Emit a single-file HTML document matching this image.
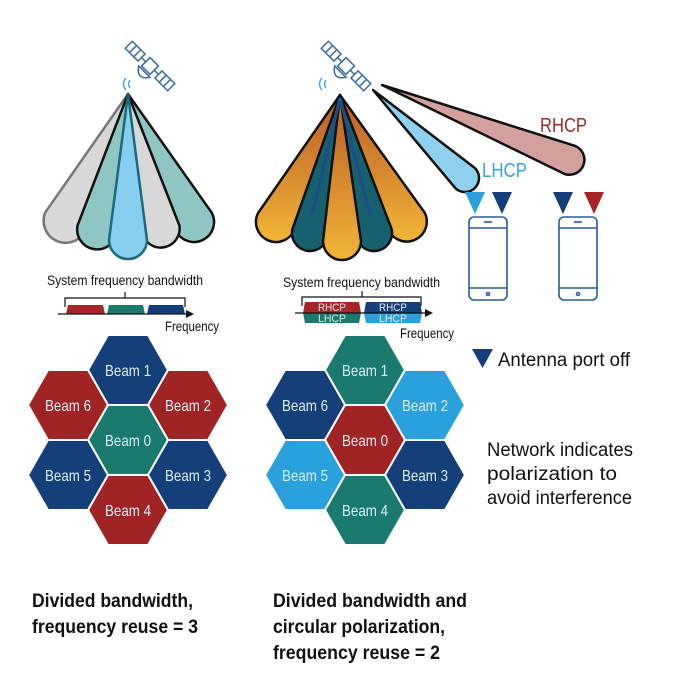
<!DOCTYPE html>
<html><head><meta charset="utf-8"><style>
html,body{margin:0;padding:0;background:#fff;}
svg{display:block;}
.n{font-family:"Liberation Sans Narrow","Liberation Sans",sans-serif;}
</style></head><body>
<svg width="676" height="684" viewBox="0 0 676 684" xmlns="http://www.w3.org/2000/svg">
<defs>
<linearGradient id="og" x1="0" y1="0" x2="0" y2="1"><stop offset="0" stop-color="#b85a28"/><stop offset="1" stop-color="#f2b536"/></linearGradient>
<g id="sat" fill="none" stroke="#3a6a9c" stroke-width="1.5">
  <g transform="rotate(45)">
    <rect x="-30" y="-5" width="18" height="10"/>
    <line x1="-24" y1="-5" x2="-24" y2="5"/><line x1="-18" y1="-5" x2="-18" y2="5"/>
    <rect x="12" y="-5" width="18" height="10"/>
    <line x1="18" y1="-5" x2="18" y2="5"/><line x1="24" y1="-5" x2="24" y2="5"/>
    <line x1="-12" y1="0" x2="-6" y2="0"/><line x1="6" y1="0" x2="12" y2="0"/>
    <rect x="-6" y="-6" width="12" height="12"/>
    <path d="M-8 8 Q0 20 8 8 Z"/>
  </g>
  <path d="M-20 14 q-3 4 0 8 M-24 12 q-5 6 0 12" stroke="#4aa8d8"/>
</g>
</defs>

<use href="#sat" x="150" y="66"/>
<use href="#sat" x="346" y="66"/>

<!-- left fan -->
<g stroke="#111" stroke-width="2.5" stroke-linejoin="round">
<path d="M128 94 L45.3 212.3 A22 22 0 0 0 84.7 231.7 Z" fill="#d8d8d8" stroke="#777"/>
<path d="M128 94 L176.2 231.2 A20 20 0 0 0 211.8 212.8 Z" fill="#8fc6c4"/>
<path d="M128 94 L77.5 225.6 A20 20 0 0 0 116.5 234.4 Z" fill="#8fc6c4"/>
<path d="M128 94 L142.6 234.5 A19 19 0 0 0 179.4 225.5 Z" fill="#d8d8d8"/>
<path d="M128 94 L109 240 A19 19 0 0 0 147 240 Z" fill="#86cdee" stroke="#1a6a7c"/>
</g>

<!-- right fan -->
<g stroke="#111" stroke-width="2.5" stroke-linejoin="round">
<path d="M340 95 L258.1 213 A20 20 0 0 0 293.9 231 Z" fill="url(#og)"/>
<path d="M340 95 L389.3 231.3 A20 20 0 0 0 424.7 212.7 Z" fill="url(#og)"/>
<path d="M340 95 L292.4 229.2 A18 18 0 0 0 327.6 236.8 Z" fill="#17606f"/>
<path d="M340 95 L356.5 237.3 A18 18 0 0 0 391.5 228.7 Z" fill="#17606f"/>
<path d="M340 95 L323 241 A19 19 0 0 0 361 241 Z" fill="url(#og)"/>
</g>
<g stroke="#1d4f86" stroke-width="3" fill="none">
<line x1="340" y1="98" x2="312" y2="215"/><line x1="340" y1="98" x2="370" y2="215"/>
</g>

<!-- LHCP / RHCP beams -->
<path d="M382 85 L564.4 173.9 A15 15 0 0 0 575.6 146.1 Z" fill="#d3a0a0" stroke="#111" stroke-width="2.5" stroke-linejoin="round"/>
<path d="M373 90 L455.3 188.1 A14 14 0 0 0 474.7 167.9 Z" fill="#8fd0ef" stroke="#111" stroke-width="2.5" stroke-linejoin="round"/>
<text x="540" y="132" class="n" font-size="20" fill="#9b2a2a" textLength="47" lengthAdjust="spacingAndGlyphs">RHCP</text>
<text x="482" y="177" class="n" font-size="20" fill="#3aa4dc" textLength="45" lengthAdjust="spacingAndGlyphs">LHCP</text>

<!-- antennas -->
<polygon points="465,192 485,192 475,214" fill="#2aa0dc"/>
<polygon points="492,192 512,192 502,214" fill="#153f78"/>
<polygon points="553,192 573,192 563,214" fill="#153f78"/>
<polygon points="584,192 604,192 594,214" fill="#a52626"/>
<!-- phones -->
<g fill="none" stroke="#2a5a9a" stroke-width="1.6">
<rect x="469" y="217" width="38" height="83" rx="5"/>
<line x1="469" y1="228" x2="507" y2="228"/><line x1="469" y1="288" x2="507" y2="288"/>
<line x1="484" y1="222" x2="492" y2="222"/><circle cx="488" cy="294" r="1.5"/>
<rect x="559" y="217" width="38" height="83" rx="5"/>
<line x1="559" y1="228" x2="597" y2="228"/><line x1="559" y1="288" x2="597" y2="288"/>
<line x1="574" y1="222" x2="582" y2="222"/><circle cx="578" cy="294" r="1.5"/>
</g>

<!-- left spectrum -->
<text x="47" y="285" class="n" font-size="14" fill="#111" textLength="156" lengthAdjust="spacingAndGlyphs">System frequency bandwidth</text>
<path d="M65 307 V298 H185 V307 M125 298 V292" fill="none" stroke="#111" stroke-width="1.2"/>
<polygon points="68,305 103,305 105,314 66,314" fill="#a52626"/>
<polygon points="109,305 143,305 145,314 107,314" fill="#1a7a6e"/>
<polygon points="149,305 183,305 185,314 147,314" fill="#153f78"/>
<line x1="58" y1="314" x2="188" y2="314" stroke="#111" stroke-width="1.2"/>
<polygon points="194,314 186,310 186,318" fill="#111"/>
<text x="165" y="331" class="n" font-size="14" fill="#111" textLength="54" lengthAdjust="spacingAndGlyphs">Frequency</text>

<!-- right spectrum -->
<text x="283" y="287" class="n" font-size="14" fill="#111" textLength="157" lengthAdjust="spacingAndGlyphs">System frequency bandwidth</text>
<path d="M302 306 V297 H421 V306 M362 297 V291" fill="none" stroke="#111" stroke-width="1.2"/>
<polygon points="305,302 359,302 361,313 303,313" fill="#a52626"/>
<polygon points="366,302 420,302 422,313 364,313" fill="#153f78"/>
<polygon points="303,313 361,313 359,323 305,323" fill="#1a7a6e"/>
<polygon points="364,313 422,313 420,323 366,323" fill="#2aa0dc"/>
<g class="n" font-size="11" fill="#e8e8e8">
<text x="318" y="311" textLength="28" lengthAdjust="spacingAndGlyphs">RHCP</text><text x="379" y="311" textLength="28" lengthAdjust="spacingAndGlyphs">RHCP</text>
<text x="318" y="322" textLength="28" lengthAdjust="spacingAndGlyphs">LHCP</text><text x="379" y="322" textLength="28" lengthAdjust="spacingAndGlyphs">LHCP</text>
</g>
<line x1="295" y1="313" x2="428" y2="313" stroke="#111" stroke-width="1.2"/>
<polygon points="433,313 425,309 425,317" fill="#111"/>
<text x="400" y="338" class="n" font-size="14" fill="#111" textLength="54" lengthAdjust="spacingAndGlyphs">Frequency</text>

<!-- hexes -->
<g stroke="#fff" stroke-width="2">
<polygon transform="translate(128,370)" points="-40,0 -20,-35 20,-35 40,0 20,35 -20,35" fill="#153f78"/>
<polygon transform="translate(68,405)" points="-40,0 -20,-35 20,-35 40,0 20,35 -20,35" fill="#a02424"/>
<polygon transform="translate(188,405)" points="-40,0 -20,-35 20,-35 40,0 20,35 -20,35" fill="#a02424"/>
<polygon transform="translate(128,440)" points="-40,0 -20,-35 20,-35 40,0 20,35 -20,35" fill="#1a7a6e"/>
<polygon transform="translate(68,475)" points="-40,0 -20,-35 20,-35 40,0 20,35 -20,35" fill="#153f78"/>
<polygon transform="translate(188,475)" points="-40,0 -20,-35 20,-35 40,0 20,35 -20,35" fill="#153f78"/>
<polygon transform="translate(128,510)" points="-40,0 -20,-35 20,-35 40,0 20,35 -20,35" fill="#a02424"/>
<polygon transform="translate(365,370)" points="-40,0 -20,-35 20,-35 40,0 20,35 -20,35" fill="#1a7a6e"/>
<polygon transform="translate(305,405)" points="-40,0 -20,-35 20,-35 40,0 20,35 -20,35" fill="#153f78"/>
<polygon transform="translate(425,405)" points="-40,0 -20,-35 20,-35 40,0 20,35 -20,35" fill="#2aa0dc"/>
<polygon transform="translate(365,440)" points="-40,0 -20,-35 20,-35 40,0 20,35 -20,35" fill="#a02424"/>
<polygon transform="translate(305,475)" points="-40,0 -20,-35 20,-35 40,0 20,35 -20,35" fill="#2aa0dc"/>
<polygon transform="translate(425,475)" points="-40,0 -20,-35 20,-35 40,0 20,35 -20,35" fill="#153f78"/>
<polygon transform="translate(365,510)" points="-40,0 -20,-35 20,-35 40,0 20,35 -20,35" fill="#1a7a6e"/>
</g>
<g class="n" font-size="16" fill="#d8eef4">
<text x="105" y="376" textLength="46" lengthAdjust="spacingAndGlyphs">Beam 1</text>
<text x="45" y="411" textLength="46" lengthAdjust="spacingAndGlyphs">Beam 6</text>
<text x="165" y="411" textLength="46" lengthAdjust="spacingAndGlyphs">Beam 2</text>
<text x="105" y="446" textLength="46" lengthAdjust="spacingAndGlyphs">Beam 0</text>
<text x="45" y="481" textLength="46" lengthAdjust="spacingAndGlyphs">Beam 5</text>
<text x="165" y="481" textLength="46" lengthAdjust="spacingAndGlyphs">Beam 3</text>
<text x="105" y="516" textLength="46" lengthAdjust="spacingAndGlyphs">Beam 4</text>
<text x="342" y="376" textLength="46" lengthAdjust="spacingAndGlyphs">Beam 1</text>
<text x="282" y="411" textLength="46" lengthAdjust="spacingAndGlyphs">Beam 6</text>
<text x="402" y="411" textLength="46" lengthAdjust="spacingAndGlyphs">Beam 2</text>
<text x="342" y="446" textLength="46" lengthAdjust="spacingAndGlyphs">Beam 0</text>
<text x="282" y="481" textLength="46" lengthAdjust="spacingAndGlyphs">Beam 5</text>
<text x="402" y="481" textLength="46" lengthAdjust="spacingAndGlyphs">Beam 3</text>
<text x="342" y="516" textLength="46" lengthAdjust="spacingAndGlyphs">Beam 4</text>
</g>

<!-- right legend -->
<polygon points="472,349 493,349 482.5,368" fill="#153f78"/>
<g class="n" font-size="19" fill="#111">
<text x="498" y="366" textLength="132" lengthAdjust="spacingAndGlyphs">Antenna port off</text>
<text x="487" y="456" textLength="146" lengthAdjust="spacingAndGlyphs">Network indicates</text>
<text x="487" y="480" textLength="130" lengthAdjust="spacingAndGlyphs">polarization to</text>
<text x="487" y="504" textLength="145" lengthAdjust="spacingAndGlyphs">avoid interference</text>
</g>

<!-- captions -->
<g class="n" font-size="19" font-weight="bold" fill="#111">
<text x="32" y="607" textLength="161" lengthAdjust="spacingAndGlyphs">Divided bandwidth,</text>
<text x="32" y="633" textLength="166" lengthAdjust="spacingAndGlyphs">frequency reuse = 3</text>
<text x="273" y="607" textLength="194" lengthAdjust="spacingAndGlyphs">Divided bandwidth and</text>
<text x="273" y="633" textLength="172" lengthAdjust="spacingAndGlyphs">circular polarization,</text>
<text x="273" y="659" textLength="167" lengthAdjust="spacingAndGlyphs">frequency reuse = 2</text>
</g>
</svg>
</body></html>
